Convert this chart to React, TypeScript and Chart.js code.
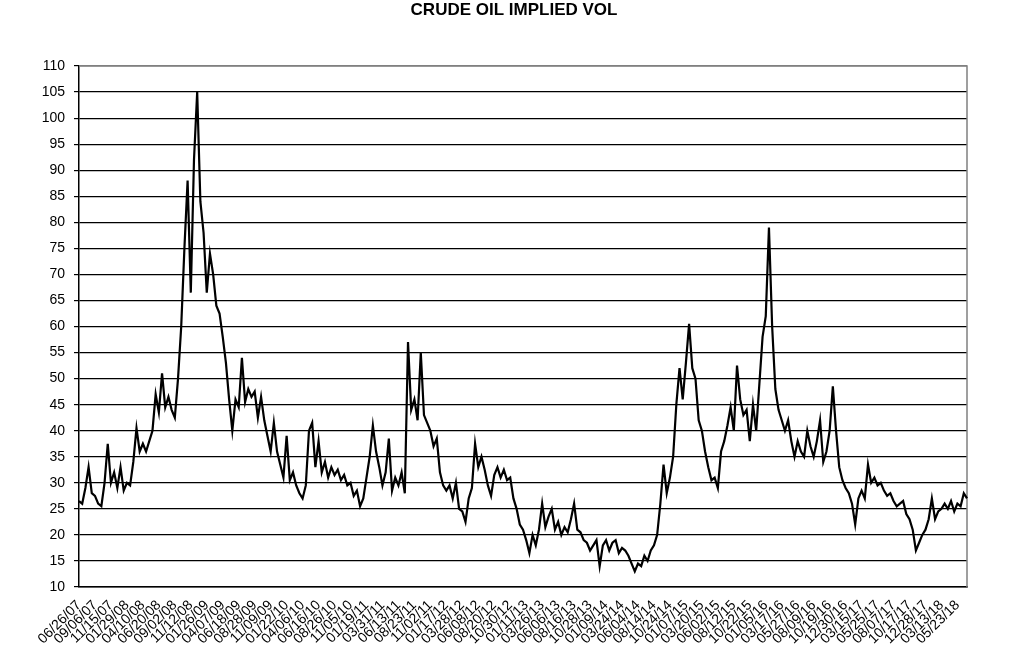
import { useEffect, useRef } from 'react';
import { Chart, registerables } from 'chart.js';

Chart.register(...registerables);

const TITLE = 'CRUDE OIL IMPLIED VOL';

// one category label every 5 data points
const POINTS_PER_LABEL = 5;

const tickLabels = [
  '06/26/07', '09/06/07', '11/15/07', '01/29/08', '04/10/08', '06/20/08', '09/02/08', '11/12/08',
  '01/26/09', '04/07/09', '06/18/09', '08/28/09', '11/09/09', '01/22/10', '04/06/10', '06/16/10',
  '08/26/10', '11/05/10', '01/19/11', '03/31/11', '06/13/11', '08/23/11', '11/02/11', '01/17/12',
  '03/28/12', '06/08/12', '08/20/12', '10/30/12', '01/11/13', '03/26/13', '06/06/13', '08/16/13',
  '10/28/13', '01/09/14', '03/24/14', '06/04/14', '08/14/14', '10/24/14', '01/07/15', '03/20/15',
  '06/02/15', '08/12/15', '10/22/15', '01/05/16', '03/17/16', '05/27/16', '08/09/16', '10/19/16',
  '12/30/16', '03/15/17', '05/25/17', '08/07/17', '10/17/17', '12/28/17', '03/13/18', '05/23/18',
];

const impliedVol = [
  26.5, 26, 29, 33, 28, 27.5, 26, 25.5, 30, 37.5,
  30, 32, 29, 33, 28.5, 30, 29.5, 34, 40.5, 36,
  37.5, 36, 38, 40, 47, 43.5, 51, 44.5, 46.5, 44,
  42.5, 50, 60, 75, 88, 66.5, 92, 105, 84, 78,
  66.5, 74, 70, 64, 62.5, 58, 53, 46, 40, 46,
  44.5, 54, 45.5, 48, 46.5, 47.5, 42.5, 46.5, 42, 39,
  36, 41.5, 36, 33.5, 31, 39, 30.5, 32, 29.5, 28,
  27, 29.5, 40, 41.5, 33, 38, 32, 34, 31, 33,
  31.5, 32.5, 30.5, 31.5, 29.5, 30, 27.5, 28.5, 25.5, 27,
  31, 35, 41, 36, 33, 29.5, 32, 38.5, 28.5, 31,
  29.5, 32, 28, 57, 44, 46, 42, 55, 43, 41.5,
  40, 37, 38.5, 32, 29.5, 28.5, 29.5, 27, 30, 25,
  24.5, 22.5, 27, 29, 37.5, 33, 35, 32.5, 29.5, 27.5,
  31.5, 33, 31, 32.5, 30.5, 31, 27, 25, 22, 21,
  19, 16.5, 20, 18, 21, 26, 21.5, 23.5, 25, 21,
  22.5, 20, 21.5, 20.5, 23, 26, 21, 20.5, 19, 18.5,
  17, 18, 19, 14, 18, 19, 17, 18.5, 19, 16.5,
  17.5, 17, 16, 14.5, 13, 14.5, 14, 16, 15, 17,
  18, 20, 26, 33.5, 28, 31, 35, 45, 52, 46,
  53, 60.5, 52, 50, 42, 40, 36, 33, 30.5, 31,
  29, 36, 38, 41, 44.5, 40, 52.5, 46, 43, 44,
  38, 45, 40, 49, 58, 62, 79, 60, 48, 44,
  42, 40, 42, 38, 35, 38, 36, 35, 40, 37,
  35, 38, 42, 34, 36, 40, 48.5, 40, 33, 30.5,
  29, 28, 26, 22, 27, 28.5, 27, 33.5, 30, 31,
  29.5, 30, 28.5, 27.5, 28, 26.5, 25.5, 26, 26.5, 24,
  23, 21, 17, 18.5, 20, 21, 23, 27, 23, 24.5,
  25, 26, 25, 26.5, 24.5, 26, 25.5, 28, 27,
];

const Y_MIN = 10;
const Y_MAX = 110;
const Y_STEP = 5;

const FONT = '"Liberation Sans", Arial, Helvetica, sans-serif';

export default function App() {
  const canvasRef = useRef<HTMLCanvasElement>(null);

  useEffect(() => {
    document.body.style.margin = '0';
    const canvas = canvasRef.current;
    if (!canvas) return;

    const categories = impliedVol.map((_, i) =>
      i % POINTS_PER_LABEL === 0 ? tickLabels[i / POINTS_PER_LABEL] ?? '' : ''
    );

    const titlePlugin = {
      id: 'titleText',
      afterDraw(chart: any) {
        const ctx = chart.ctx;
        ctx.save();
        ctx.font = `bold 17px ${FONT}`;
        ctx.fillStyle = '#000';
        ctx.textAlign = 'center';
        ctx.textBaseline = 'middle';
        ctx.fillText(TITLE, 514, 10);
        ctx.restore();
      },
    };

    const framePlugin = {
      id: 'frame',
      beforeDatasetsDraw(chart: any) {
        const { left, right, top, bottom } = chart.chartArea;
        const ctx = chart.ctx;
        ctx.save();
        ctx.strokeStyle = '#808080';
        ctx.lineWidth = 1.5;
        ctx.beginPath();
        ctx.moveTo(left, top);
        ctx.lineTo(right, top);
        ctx.lineTo(right, bottom);
        ctx.stroke();
        ctx.restore();
      },
    };

    Chart.defaults.font.family = FONT;

    const chart = new Chart(canvas, {
      type: 'line',
      data: {
        labels: categories,
        datasets: [
          {
            data: impliedVol,
            borderColor: '#000',
            borderWidth: 2.2,
            pointRadius: 0,
            tension: 0,
            fill: false,
          },
        ],
      },
      options: {
        responsive: false,
        animation: false,
        layout: { padding: { top: 66, right: 57, bottom: 0, left: 0 } },
        plugins: {
          legend: { display: false },
          title: { display: false },
          tooltip: { enabled: false },
        },
        scales: {
          x: {
            type: 'category',
            grid: { display: false },
            border: { display: true, color: '#000', width: 1.5 },
            ticks: {
              autoSkip: false,
              maxRotation: 45,
              minRotation: 45,
              color: '#000',
              font: { size: 14 },
              padding: 2,
              callback: function (this: any, _val: any, idx: number) {
                const l = categories[idx];
                return l === '' ? null : l;
              },
            },
            afterFit(scale: any) {
              scale.height = 64;
            },
          },
          y: {
            min: Y_MIN,
            max: Y_MAX,
            grid: {
              color: (ctx: any) => (ctx.tick && ctx.tick.value === Y_MAX ? '#808080' : '#000'),
              lineWidth: 1.2,
              drawTicks: true,
              tickLength: 5,
              tickColor: '#000',
            },
            border: { display: true, color: '#000', width: 1.5 },
            ticks: {
              stepSize: Y_STEP,
              color: '#000',
              font: { size: 14 },
              padding: 9,
            },
            afterFit(scale: any) {
              scale.width = 79;
            },
          },
        },
      },
      plugins: [titlePlugin, framePlugin],
    });

    return () => chart.destroy();
  }, []);

  return (
    <div style={{ position: 'fixed', left: 0, top: 0, width: 1024, height: 651, background: '#fff' }}>
      <canvas ref={canvasRef} width={1024} height={651} />
    </div>
  );
}
